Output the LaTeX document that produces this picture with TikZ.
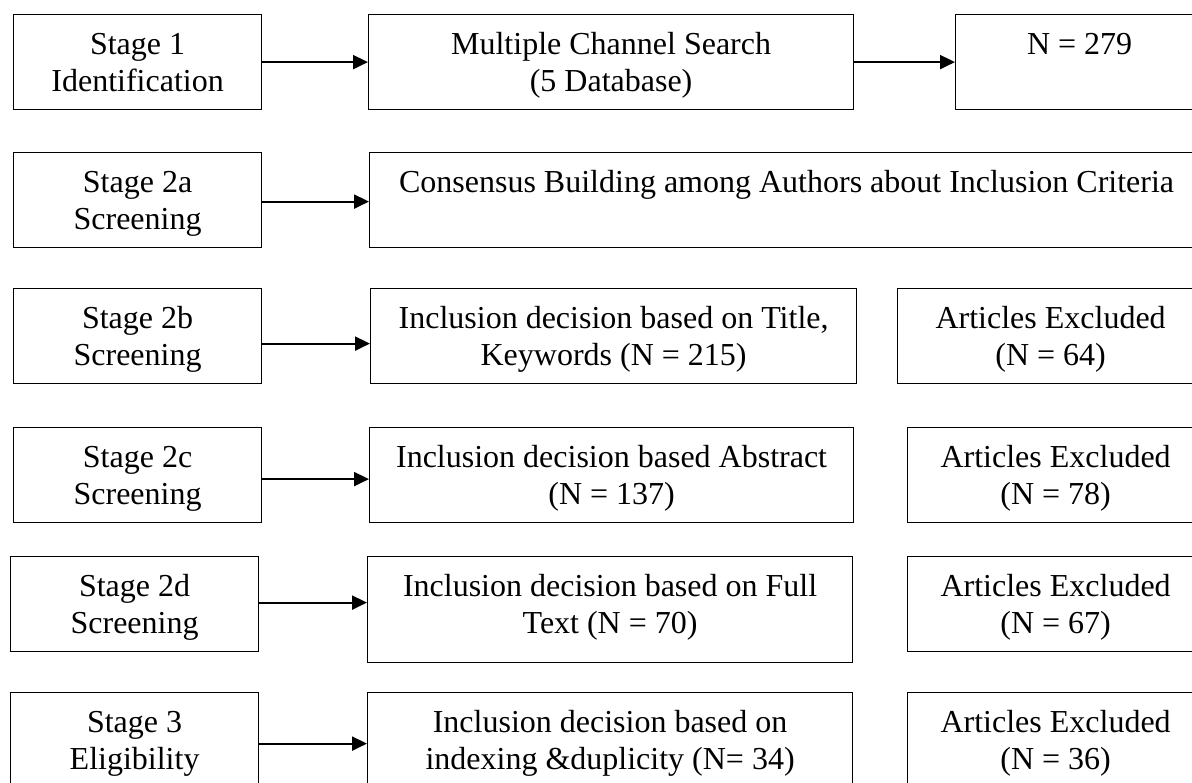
\documentclass[tikz,border=0pt]{standalone}
\usepackage{fontspec}
\setmainfont{Liberation Serif}
\usetikzlibrary{arrows.meta}
\tikzset{
    box/.style={draw, line width=1.2pt, anchor=north west, align=center, inner sep=0pt, text height=76.5pt, text depth=18.5pt},
    oneline/.style={text height=40pt, text depth=55pt},
    stage/.style={box, minimum width=248pt},
    decision/.style={box, minimum width=485pt},
    excluded/.style={box, minimum width=296pt},
    flow/.style={-{Triangle[length=15pt,width=14pt]}, line width=2pt},
}

\begin{document}
\begin{tikzpicture}[x=1pt,y=-1pt,font=\fontsize{32}{36.5}\selectfont]
\useasboundingbox (0,0) rectangle (1192,783);
\clip (0,0) rectangle (1192,783);
% stages
\node[stage] (s1) at (13,14) {Stage 1\\Identification};
\node[stage] (s2a) at (13,152) {Stage 2a\\Screening};
\node[stage] (s2b) at (13,288) {Stage 2b\\Screening};
\node[stage] (s2c) at (13,427) {Stage 2c\\Screening};
\node[stage] (s2d) at (10,556) {Stage 2d\\Screening};
\node[stage] (s3) at (10,692) {Stage 3\\Eligibility};
% decisions
\node[decision] (search) at (368,14) {Multiple Channel Search\\(5 Database)};
\node[box, oneline, minimum width=834pt] (consensus) at (369,152) {Consensus Building among Authors about Inclusion Criteria};
\node[decision, minimum width=486pt] (title) at (370,288) {Inclusion decision based on Title,\\Keywords (N = 215)};
\node[decision, minimum width=484pt] (abstract) at (369,427) {Inclusion decision based Abstract\\(N = 137)};
\node[decision, text depth=29.5pt] (fulltext) at (367,556) {Inclusion decision based on Full\\Text (N = 70)};
\node[decision] (indexing) at (367,692) {Inclusion decision based on\\indexing \&duplicity (N= 34)};
% results
\node[box, oneline, minimum width=248pt] (total) at (955,14) {N = 279};
\node[excluded, minimum width=306pt] (ex2b) at (897,288) {Articles Excluded\\(N = 64)};
\node[excluded] (ex2c) at (907,427) {Articles Excluded\\(N = 78)};
\node[excluded] (ex2d) at (907,556) {Articles Excluded\\(N = 67)};
\node[excluded] (ex3) at (907,692) {Articles Excluded\\(N = 36)};
% arrows
\draw[flow] (s1) -- (search);
\draw[flow] (search) -- (total);
\draw[flow] ([yshift=-1.5pt]s2a.east) -- ([yshift=-1.5pt]s2a.east -| consensus.west);
\draw[flow] ([yshift=-7.5pt]s2b.east) -- ([yshift=-7.5pt]s2b.east -| title.west);
\draw[flow] ([yshift=-4pt]s2c.east) -- ([yshift=-4pt]s2c.east -| abstract.west);
\draw[flow] ([yshift=1.5pt]s2d.east) -- ([yshift=1.5pt]s2d.east -| fulltext.west);
\draw[flow] ([yshift=-3.5pt]s3.east) -- ([yshift=-3.5pt]s3.east -| indexing.west);
\end{tikzpicture}
\end{document}
